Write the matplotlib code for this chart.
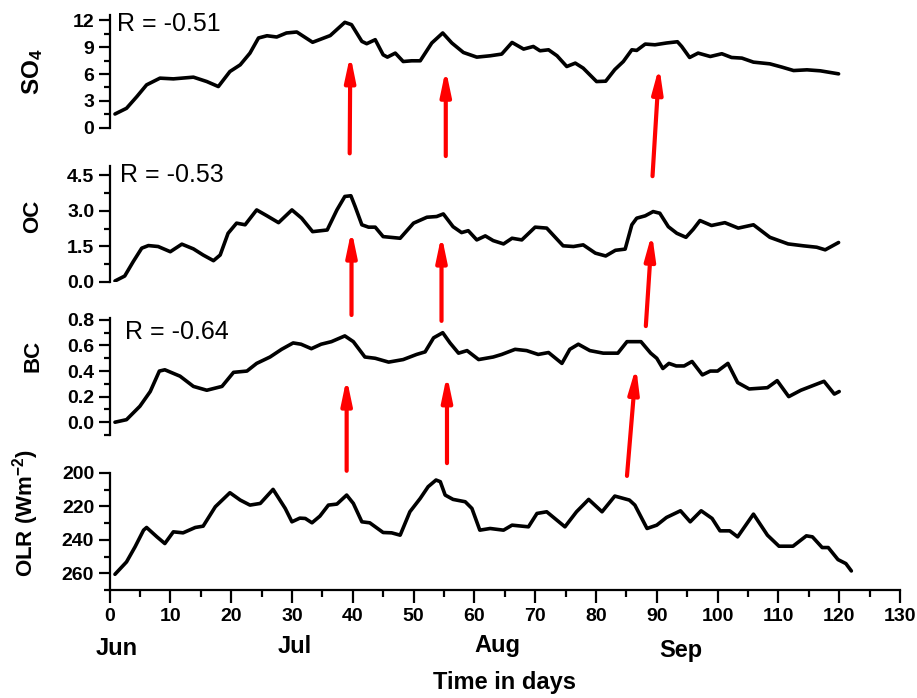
import matplotlib
matplotlib.use("Agg")
import matplotlib.pyplot as plt
import matplotlib.transforms as mtransforms
from matplotlib.ticker import MultipleLocator

plt.rcParams['font.family'] = ['Liberation Sans', 'DejaVu Sans']
plt.rcParams['mathtext.fontset'] = 'custom'
plt.rcParams['mathtext.rm'] = 'Liberation Sans:bold'
plt.rcParams['mathtext.default'] = 'rm'

# ---------------- data ----------------
so4_days = [0.9, 2.8, 4.5, 6.1, 8.3, 10.5, 13.8, 16.0, 17.9, 19.8, 21.5, 23.1, 24.5, 25.9, 27.5, 29.1,
            30.8, 33.4, 36.3, 38.7, 39.8, 41.5, 42.3, 43.7, 45.0, 45.7, 47.0, 48.3, 49.7, 51.1, 53.0,
            54.8, 56.3, 58.2, 60.4, 62.6, 64.5, 66.2, 68.1, 69.7, 70.8, 72.2, 73.6, 75.2, 76.6, 77.9,
            80.1, 81.6, 83.1, 84.5, 85.9, 86.7, 88.1, 89.7, 91.6, 93.4, 94.1, 95.4, 96.8, 98.8, 100.7,
            102.3, 104.0, 105.9, 108.6, 110.6, 112.5, 114.7, 116.9, 119.9]
so4_vals = [1.53, 2.17, 3.48, 4.79, 5.54, 5.46, 5.65, 5.16, 4.6, 6.28, 7.03, 8.34, 10.03, 10.28, 10.14,
            10.59, 10.7, 9.55, 10.3, 11.78, 11.52, 9.65, 9.39, 9.84, 8.15, 7.89, 8.34, 7.4, 7.48, 7.48,
            9.47, 10.59, 9.47, 8.41, 7.89, 8.04, 8.23, 9.53, 8.79, 9.08, 8.6, 8.71, 8.04, 6.84, 7.22,
            6.66, 5.16, 5.2, 6.5, 7.4, 8.71, 8.64, 9.35, 9.27, 9.47, 9.61, 9.08, 7.85, 8.34, 7.96, 8.27,
            7.85, 7.78, 7.33, 7.14, 6.77, 6.39, 6.47, 6.36, 6.02]

oc_days = [0.9, 2.5, 3.9, 5.3, 6.4, 8.0, 10.0, 11.9, 13.8, 15.4, 17.1, 18.2, 19.5, 20.9, 22.3, 24.2,
           25.9, 27.8, 30.0, 31.6, 33.4, 35.8, 37.4, 38.7, 39.7, 40.4, 41.5, 42.6, 43.7, 45.0, 47.8,
           50.0, 52.2, 53.8, 54.9, 56.5, 57.9, 59.0, 60.4, 61.8, 63.1, 64.8, 66.2, 67.8, 70.0, 71.9,
           74.6, 76.3, 77.9, 79.9, 81.6, 83.2, 84.8, 85.9, 86.7, 88.1, 89.4, 90.5, 91.9, 93.3, 94.8,
           96.0, 97.1, 99.0, 101.2, 103.4, 105.9, 108.6, 111.6, 114.1, 116.3, 117.7, 119.9]
oc_vals = [0.03, 0.24, 0.85, 1.42, 1.53, 1.49, 1.27, 1.59, 1.39, 1.13, 0.89, 1.13, 2.05, 2.48, 2.41,
           3.04, 2.79, 2.5, 3.04, 2.69, 2.12, 2.19, 3.04, 3.61, 3.64, 3.18, 2.41, 2.31, 2.31, 1.91,
           1.84, 2.48, 2.73, 2.76, 2.87, 2.33, 2.08, 2.16, 1.77, 1.94, 1.74, 1.6, 1.84, 1.77, 2.31,
           2.27, 1.52, 1.49, 1.56, 1.21, 1.09, 1.33, 1.38, 2.41, 2.69, 2.79, 2.97, 2.9, 2.33, 2.05,
           1.88, 2.22, 2.59, 2.38, 2.5, 2.27, 2.41, 1.88, 1.6, 1.52, 1.46, 1.35, 1.66]

bc_days = [0.9, 2.8, 5.0, 6.7, 8.2, 9.1, 11.6, 13.8, 16.0, 18.5, 20.4, 22.6, 24.2, 26.4, 28.3, 30.2,
           31.5, 33.2, 34.8, 36.5, 38.7, 40.1, 42.0, 43.7, 45.9, 48.3, 50.5, 51.9, 53.3, 54.8, 56.0,
           57.4, 58.8, 60.7, 63.1, 64.5, 66.7, 68.6, 70.5, 72.2, 74.4, 75.7, 77.1, 79.0, 81.2, 83.6,
           85.1, 87.4, 89.0, 90.0, 91.0, 92.0, 93.2, 94.5, 95.8, 97.5, 98.8, 100.0, 101.7, 103.3,
           105.2, 108.2, 109.8, 111.7, 113.7, 115.6, 117.5, 119.2, 120.0]
bc_vals = [0.0, 0.02, 0.125, 0.24, 0.4, 0.41, 0.36, 0.28, 0.25, 0.28, 0.39, 0.4, 0.46, 0.51, 0.57,
           0.62, 0.61, 0.575, 0.61, 0.63, 0.675, 0.63, 0.51, 0.5, 0.47, 0.49, 0.53, 0.55, 0.66, 0.70,
           0.62, 0.54, 0.56, 0.49, 0.51, 0.53, 0.57, 0.56, 0.53, 0.545, 0.46, 0.57, 0.61, 0.56, 0.54,
           0.54, 0.63, 0.63, 0.54, 0.50, 0.42, 0.46, 0.44, 0.44, 0.475, 0.37, 0.40, 0.40, 0.46, 0.31,
           0.26, 0.27, 0.325, 0.20, 0.25, 0.285, 0.32, 0.22, 0.24]

olr_days = [0.9, 2.8, 4.2, 5.6, 6.1, 7.8, 9.1, 10.5, 12.1, 14.1, 15.4, 17.4, 19.8, 21.5, 23.1, 24.8,
            26.9, 28.9, 30.0, 31.3, 32.2, 33.3, 34.6, 36.0, 37.4, 39.0, 40.1, 41.5, 42.8, 45.0, 46.4,
            47.8, 49.4, 51.1, 52.4, 53.7, 54.4, 55.2, 56.5, 58.5, 59.6, 60.9, 62.6, 64.8, 66.2, 68.9,
            70.3, 71.9, 74.9, 76.8, 78.8, 81.0, 83.1, 85.5, 86.4, 88.4, 90.0, 91.6, 93.9, 95.5, 97.3,
            99.1, 100.4, 102.0, 103.3, 105.9, 108.2, 110.1, 112.4, 114.6, 115.6, 117.2, 118.2, 119.8,
            121.1, 122.0]
olr_vals = [260.6, 253.2, 244.2, 234.2, 232.6, 238.2, 242.2, 235.2, 235.8, 232.6, 231.8, 220.2, 211.8,
            216.2, 219.2, 218.2, 209.8, 221.2, 229.2, 227.0, 227.2, 229.8, 225.8, 219.2, 218.6, 213.2,
            218.2, 229.2, 229.8, 235.6, 235.8, 237.2, 223.2, 215.2, 208.2, 204.2, 205.2, 213.2, 215.8,
            217.2, 221.2, 234.2, 233.2, 234.2, 231.2, 232.2, 224.2, 223.2, 232.2, 223.2, 215.8, 223.2,
            213.8, 216.2, 219.2, 233.2, 231.2, 226.6, 222.6, 229.2, 222.6, 227.2, 234.6, 234.6, 238.2,
            224.6, 237.2, 243.8, 243.8, 237.6, 238.2, 244.6, 244.6, 251.8, 254.2, 258.6]

panel_labels = [r'SO$_{4}$', 'OC', 'BC', r'OLR (Wm$^{-2}$)']
r_labels = ['R = -0.51', 'R = -0.53', 'R = -0.64']
month_names = ['Jun', 'Jul', 'Aug', 'Sep']
month_pos = [1.2, 30.5, 63.8, 94.0]
x_label = 'Time in days'

# arrows: (tail_day, tail_val, tip_day, tip_val) in each panel's units
so4_arrows = [(39.5, -2.87, 39.6, 8.15), (55.3, -3.17, 55.3, 6.55), (89.3, -5.42, 90.4, 6.84)]
oc_arrows = [(39.8, -1.41, 39.8, 2.19), (54.6, -1.66, 54.6, 1.98), (88.2, -1.88, 89.2, 2.05)]
bc_arrows = [(39.0, -0.38, 39.0, 0.346), (55.5, -0.32, 55.5, 0.371), (85.1, -0.42, 86.6, 0.434)]

# ---------------- figure ----------------
W, H = 917, 698
fig = plt.figure(figsize=(W / 100, H / 100), dpi=100)

def frac_rect(top_px, bot_px, left_px=109.5, right_px=900):
    return [left_px / W, 1 - bot_px / H, (right_px - left_px) / W, (bot_px - top_px) / H]

ax1 = fig.add_axes(frac_rect(15, 127.7))
ax2 = fig.add_axes(frac_rect(166, 281.7))
ax3 = fig.add_axes(frac_rect(318, 435))
ax4 = fig.add_axes(frac_rect(473, 590))
axes = [ax1, ax2, ax3, ax4]

series = [(so4_days, so4_vals), (oc_days, oc_vals), (bc_days, bc_vals), (olr_days, olr_vals)]
for ax, (d, v) in zip(axes, series):
    ax.set_facecolor('none')
    ax.plot(d, v, color='black', lw=2.6, solid_joinstyle='round', solid_capstyle='round')
    ax.set_xlim(0, 130)
    for s in ['top', 'right']:
        ax.spines[s].set_visible(False)
    ax.spines['left'].set_linewidth(1.6)
    ax.tick_params(axis='y', which='major', direction='out', length=8, width=1.6,
                   labelsize=14, pad=3)
    ax.tick_params(axis='y', which='minor', direction='out', length=4.5, width=1.6)

for ax in axes[:3]:
    ax.spines['bottom'].set_visible(False)
    ax.tick_params(axis='x', which='both', bottom=False, labelbottom=False)

ax1.set_ylim(0, 12.6)
ax1.yaxis.set_major_locator(MultipleLocator(3))
ax1.yaxis.set_minor_locator(MultipleLocator(1.5))
ax2.set_ylim(0, 4.9)
ax2.set_yticks([0.0, 1.5, 3.0, 4.5])
ax2.yaxis.set_minor_locator(MultipleLocator(0.75))
ax3.set_ylim(-0.1, 0.815)
ax3.set_yticks([0.0, 0.2, 0.4, 0.6, 0.8])
ax3.yaxis.set_minor_locator(MultipleLocator(0.1))
ax4.set_ylim(270, 200)
ax4.set_yticks([200, 220, 240, 260])
ax4.yaxis.set_minor_locator(MultipleLocator(10))

ax2.yaxis.set_major_formatter(plt.FuncFormatter(lambda v, p: f'{v:.1f}'))
ax3.yaxis.set_major_formatter(plt.FuncFormatter(lambda v, p: f'{v:.1f}'))

for ax in axes:
    for lab in ax.get_yticklabels():
        lab.set_fontweight('bold')

ax4.spines['bottom'].set_linewidth(1.6)
ax4.xaxis.set_major_locator(MultipleLocator(10))
ax4.xaxis.set_minor_locator(MultipleLocator(5))
ax4.tick_params(axis='x', which='major', direction='out', length=9, width=1.6, labelsize=14, pad=4)
ax4.tick_params(axis='x', which='minor', direction='out', length=5, width=1.6)
for lab in ax4.get_xticklabels():
    lab.set_fontweight('bold')

# y labels
label_pos = [(33, 72), (33, 216), (33, 356), (26, 513)]
label_size = [17.5, 16, 16, 16]
for txt, (px, py), fs in zip(panel_labels, label_pos, label_size):
    fig.text(px / W, 1 - py / H, txt, rotation=90, ha='center', va='center',
             fontsize=fs, fontweight='bold')

# R labels
r_pos = [(117, 30.7), (120, 181.7), (125, 339.3)]
for txt, (px, py) in zip(r_labels, r_pos):
    fig.text(px / W, 1 - py / H, txt, ha='left', va='baseline', fontsize=18)

# months and x label
trans = mtransforms.blended_transform_factory(ax4.transData, fig.transFigure)
month_base = [655, 653, 652, 657]
for name, pos, by in zip(month_names, month_pos, month_base):
    ax4.text(pos, 1 - by / H, name, transform=trans, ha='center', va='baseline',
             fontsize=17, fontweight='bold', clip_on=False)
ax4.text(65, 1 - 689 / H, x_label, transform=trans, ha='center', va='baseline',
         fontsize=17, fontweight='bold', clip_on=False)

# arrows
for ax, arrs in zip([ax1, ax2, ax3], [so4_arrows, oc_arrows, bc_arrows]):
    for (x0, y0, x1, y1) in arrs:
        ax.annotate('', xy=(x1, y1), xytext=(x0, y0), xycoords='data', textcoords='data',
                    annotation_clip=False,
                    arrowprops=dict(arrowstyle='-|>,head_length=1.05,head_width=0.22',
                                    color='#ff0000', lw=3.0, mutation_scale=14,
                                    shrinkA=0, shrinkB=0))

fig.savefig('out.png', dpi=100)
